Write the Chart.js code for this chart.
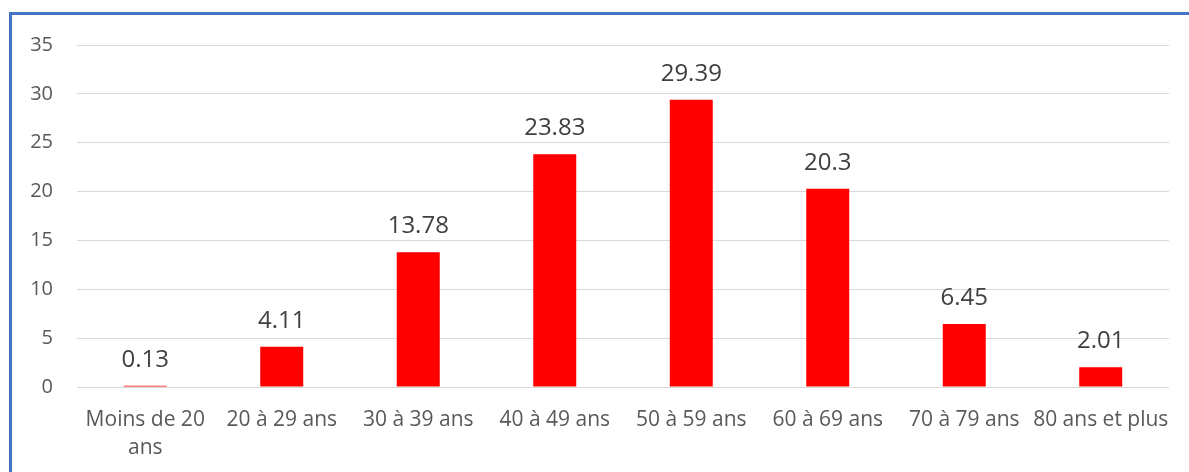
<!DOCTYPE html>
<html>
<head>
<meta charset="utf-8">
<script src="https://cdn.jsdelivr.net/npm/chart.js@4.4.0/dist/chart.umd.min.js"></script>
<style>
    html, body { margin: 0; padding: 0; background: #ffffff; }
    #wrap { position: relative; width: 1189px; height: 472px; overflow: hidden; }
    #frame {
        position: absolute; left: 9px; top: 12px; right: -10px; bottom: -10px;
        border-left: 3px solid #4472C4; border-top: 3px solid #4472C4;
        pointer-events: none;
    }
    canvas { position: absolute; left: 0; top: 0; }
</style>
</head>
<body>
<div id="wrap">
    <canvas id="ageChart" width="1189" height="472"></canvas>
    <div id="frame"></div>
</div>
<script>
// Age groups and their share (%)
const categories = [
    ['Moins de 20', 'ans'],
    '20 à 29 ans',
    '30 à 39 ans',
    '40 à 49 ans',
    '50 à 59 ans',
    '60 à 69 ans',
    '70 à 79 ans',
    '80 ans et plus'
];
const values = [0.13, 4.11, 13.78, 23.83, 29.39, 20.3, 6.45, 2.01];
const yTicks = [0, 5, 10, 15, 20, 25, 30, 35];

// Draw the value above each bar
const valueLabels = {
    id: 'valueLabels',
    afterDatasetsDraw(chart) {
        const ctx = chart.ctx;
        const meta = chart.getDatasetMeta(0);
        ctx.save();
        ctx.font = '24px "Open Sans"';
        ctx.fillStyle = '#404040';
        ctx.textAlign = 'center';
        ctx.textBaseline = 'alphabetic';
        meta.data.forEach((bar, i) => {
            ctx.fillText(String(values[i]), bar.x, bar.y - 19);
        });
        ctx.restore();
    }
};

new Chart(document.getElementById('ageChart'), {
    type: 'bar',
    data: {
        labels: categories,
        datasets: [{
            data: values,
            backgroundColor: '#FF0000',
            borderWidth: 0,
            categoryPercentage: 1,
            barPercentage: 0.315
        }]
    },
    options: {
        responsive: false,
        animation: false,
        devicePixelRatio: 1,
        layout: { padding: { left: 0, right: 20, top: 45, bottom: 0 } },
        plugins: {
            legend: { display: false },
            tooltip: { enabled: false }
        },
        scales: {
            x: {
                grid: { display: false, drawTicks: false },
                border: { display: false },
                ticks: {
                    color: '#595959',
                    font: { family: 'Open Sans', size: 21, lineHeight: 1.33 },
                    padding: 19,
                    maxRotation: 0,
                    autoSkip: false
                },
                afterFit(scale) { scale.height = 85; }
            },
            y: {
                min: 0,
                max: 35,
                afterBuildTicks(scale) { scale.ticks = yTicks.map(v => ({ value: v })); },
                grid: { color: '#d9d9d9', lineWidth: 1, drawTicks: false },
                border: { display: false },
                ticks: {
                    color: '#595959',
                    font: { family: 'Open Sans', size: 20 },
                    padding: 24
                },
                afterFit(scale) { scale.width = 77; }
            }
        }
    },
    plugins: [valueLabels]
});
</script>
</body>
</html>
